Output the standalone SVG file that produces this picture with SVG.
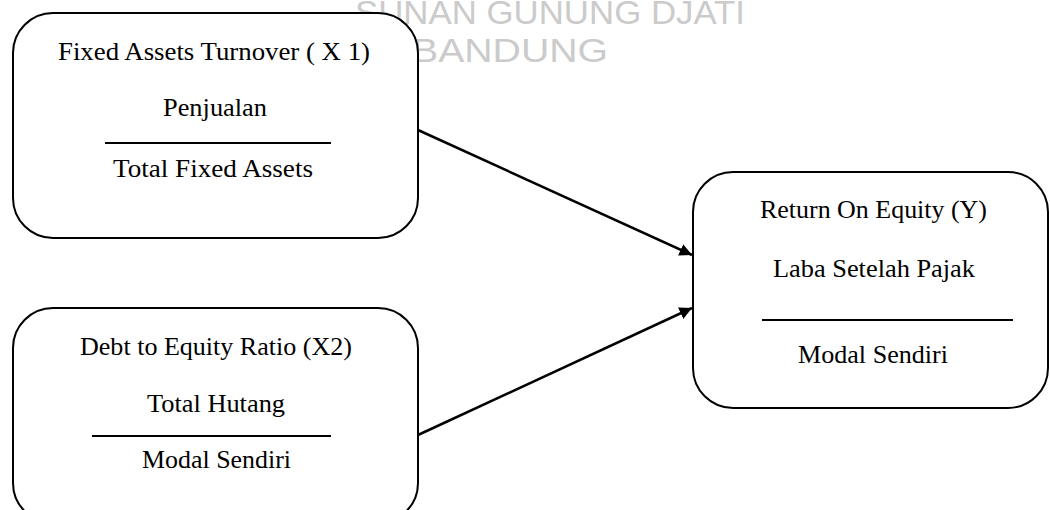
<svg xmlns="http://www.w3.org/2000/svg" width="1050" height="510" viewBox="0 0 1050 510">
  <style>
    .wm { font-family: "Liberation Sans", "Open Sans", sans-serif; font-size: 33px; fill: #cbcbcb; }
    .box { fill: #ffffff; stroke: #000000; stroke-width: 2; }
    .lbl { font-family: "Liberation Serif", "Times New Roman", serif; font-size: 25px; fill: #000000; }
    .div { stroke: #000000; stroke-width: 2; }
    .conn { stroke: #000000; stroke-width: 2.5; fill: none; }
  </style>
  <defs>
    <marker id="arrow" viewBox="0 0 10 10" refX="10" refY="5" markerWidth="5" markerHeight="5" orient="auto" markerUnits="strokeWidth">
      <path d="M0,0 L10,5 L0,10 Z" fill="#000000"/>
    </marker>
  </defs>
  <rect width="1050" height="510" fill="#ffffff"/>
  <g id="watermark">
    <text class="wm" x="355" y="24" textLength="390" lengthAdjust="spacingAndGlyphs">SUNAN GUNUNG DJATI</text>
    <text class="wm" x="412" y="62" textLength="196" lengthAdjust="spacingAndGlyphs">BANDUNG</text>
  </g>
  <g id="connectors">
    <line class="conn" x1="418" y1="130" x2="692" y2="255" marker-end="url(#arrow)"/>
    <line class="conn" x1="418" y1="435" x2="692" y2="308" marker-end="url(#arrow)"/>
  </g>
  <g id="node-x1">
    <rect class="box" x="13" y="13" width="405" height="225" rx="40" ry="40"/>
    <text class="lbl" x="58" y="60" textLength="312" lengthAdjust="spacingAndGlyphs">Fixed  Assets Turnover ( X 1)</text>
    <text class="lbl" x="163" y="116" textLength="104" lengthAdjust="spacingAndGlyphs">Penjualan</text>
    <line class="div" x1="105" y1="143" x2="331" y2="143"/>
    <text class="lbl" x="113" y="177" textLength="200" lengthAdjust="spacingAndGlyphs">Total Fixed  Assets</text>
  </g>
  <g id="node-x2">
    <rect class="box" x="13" y="308" width="405" height="215" rx="40" ry="40"/>
    <text class="lbl" x="80" y="355" textLength="272" lengthAdjust="spacingAndGlyphs">Debt to Equity Ratio (X2)</text>
    <text class="lbl" x="147" y="412" textLength="138" lengthAdjust="spacingAndGlyphs">Total Hutang</text>
    <line class="div" x1="92" y1="436" x2="331" y2="436"/>
    <text class="lbl" x="142" y="468" textLength="149" lengthAdjust="spacingAndGlyphs">Modal Sendiri</text>
  </g>
  <g id="node-y">
    <rect class="box" x="693" y="172" width="355" height="236" rx="40" ry="40"/>
    <text class="lbl" x="760" y="218" textLength="227" lengthAdjust="spacingAndGlyphs">Return On Equity (Y)</text>
    <text class="lbl" x="773" y="277" textLength="202" lengthAdjust="spacingAndGlyphs">Laba Setelah Pajak</text>
    <line class="div" x1="762" y1="320" x2="1013" y2="320"/>
    <text class="lbl" x="798" y="363" textLength="150" lengthAdjust="spacingAndGlyphs">Modal Sendiri</text>
  </g>
</svg>
